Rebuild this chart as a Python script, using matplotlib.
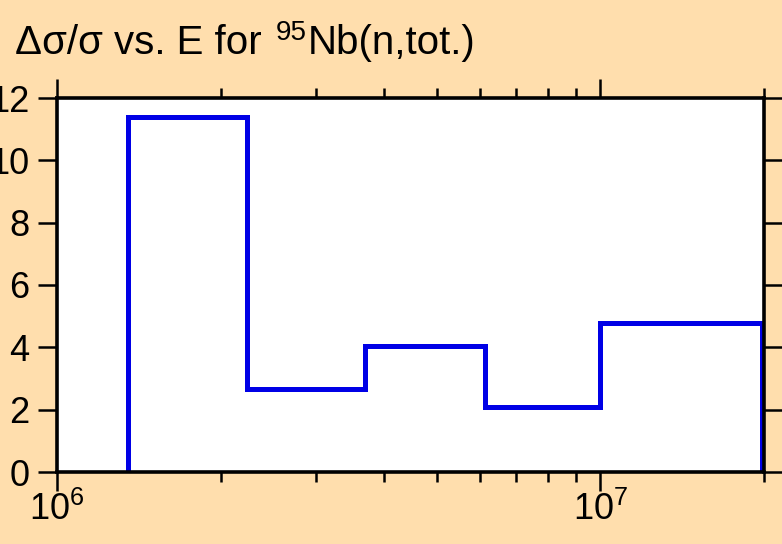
import matplotlib
matplotlib.use('Agg')
import matplotlib.pyplot as plt
from matplotlib.ticker import LogLocator, NullFormatter

# bin edges (eV) and relative uncertainty (%)
edges = [1.35e6, 2.24e6, 3.69e6, 6.12e6, 1.0e7, 1.98e7]
values = [11.4, 2.67, 4.05, 2.1, 4.77]
yticks = [0, 2, 4, 6, 8, 10, 12]

plt.rcParams['font.family'] = ['Liberation Sans', 'DejaVu Sans']
plt.rcParams['mathtext.fontset'] = 'custom'
plt.rcParams['mathtext.rm'] = 'Liberation Sans'
plt.rcParams['mathtext.it'] = 'Liberation Sans'
plt.rcParams['mathtext.default'] = 'regular'

bg = '#FFDEAD'
fig = plt.figure(figsize=(7.82, 5.44), dpi=100, facecolor=bg)
ax = fig.add_axes([57/782, 1-472/544, (764-57)/782, (472-98)/544])
ax.set_facecolor('white')

ax.stairs(values, edges, baseline=0, color='#0000E6', linewidth=3.6)

ax.set_xscale('log')
ax.set_xlim(1e6, 2.0e7)
ax.set_ylim(0, 12)
ax.set_yticks(yticks)
ax.xaxis.set_major_locator(LogLocator(base=10))
ax.xaxis.set_minor_locator(LogLocator(base=10, subs=range(2, 10)))
ax.xaxis.set_minor_formatter(NullFormatter())

for s in ax.spines.values():
    s.set_linewidth(2.6)
ax.tick_params(which='both', direction='out', top=True, right=True,
               labelsize=26, width=1.8)
ax.tick_params(which='major', length=14)
ax.tick_params(which='minor', length=7)
ax.tick_params(axis='x', pad=0)
ax.tick_params(axis='y', pad=6)

# title in pieces so the superscript can be sized like the original
t1 = fig.text(15/782, 1-54/544, '\u0394\u03c3/\u03c3 vs. E for ',
              fontsize=29, va='baseline', ha='left')
t2 = fig.text(0, 0, '95', fontsize=20, va='baseline', ha='left')
t3 = fig.text(0, 0, 'Nb(n,tot.)', fontsize=29, va='baseline', ha='left')
fig.canvas.draw()
r = fig.canvas.get_renderer()
inv = fig.transFigure.inverted()
bb1 = t1.get_window_extent(r)
x2 = inv.transform((bb1.x1 + 3, 0))[0]
t2.set_position((x2, 1-40/544))
fig.canvas.draw()
bb2 = t2.get_window_extent(r)
x3 = inv.transform((bb2.x1 + 1, 0))[0]
t3.set_position((x3, 1-54/544))

fig.savefig('out.png', dpi=100, facecolor=bg)
